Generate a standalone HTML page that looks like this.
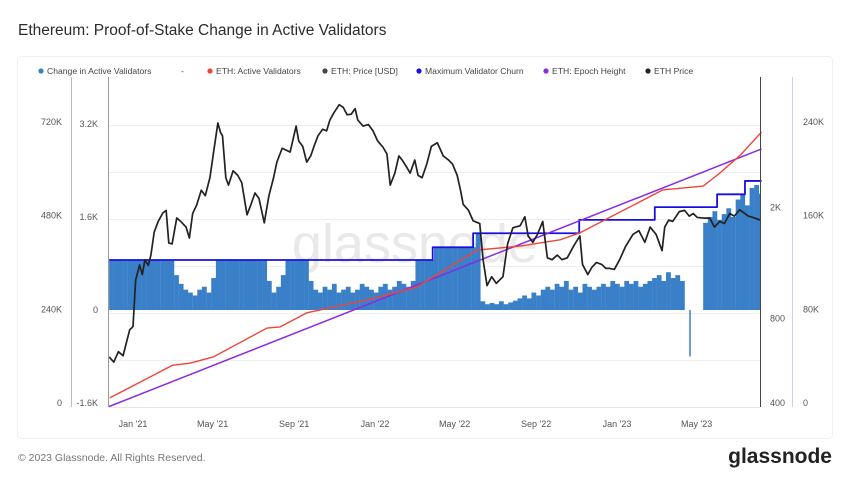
<!DOCTYPE html>
<html><head><meta charset="utf-8"><style>
body{margin:0;background:#fff;font-family:"Liberation Sans",sans-serif;}
#wrap{position:relative;width:850px;height:478px;overflow:hidden;background:#fff}
</style></head><body>
<div id="wrap">
<svg id="svg" width="850" height="478" xmlns="http://www.w3.org/2000/svg">
<text x="18" y="35" font-size="15.5" fill="#2b2b2b">Ethereum: Proof-of-Stake Change in Active Validators</text>
<rect x="17.5" y="56.5" width="815" height="382" rx="4" fill="none" stroke="#efefef"/>
<g font-size="8.6" fill="#444">
<g><circle cx="41" cy="71" r="2.6" fill="#3b82c4"/><text x="47" y="74">Change in Active Validators</text></g>
<text x="181" y="74">-</text>
<g><circle cx="210" cy="71" r="2.6" fill="#f0443a"/><text x="216" y="74">ETH: Active Validators</text></g>
<g><circle cx="325" cy="71" r="2.6" fill="#444"/><text x="331" y="74">ETH: Price [USD]</text></g>
<g><circle cx="419" cy="71" r="2.6" fill="#1a0fe0"/><text x="425" y="74">Maximum Validator Churn</text></g>
<g><circle cx="546" cy="71" r="2.6" fill="#8a2be2"/><text x="552" y="74">ETH: Epoch Height</text></g>
<g><circle cx="648" cy="71" r="2.6" fill="#222"/><text x="654" y="74">ETH Price</text></g>
</g>
<g id="grid"></g>
<text x="415" y="262" font-size="54" fill="#e9e9e9" text-anchor="middle">glassnode</text>
<g id="bars"></g>
<g id="lines"></g>
<line x1="71.5" y1="77" x2="71.5" y2="407" stroke="#bbb"/>
<line x1="108.5" y1="77" x2="108.5" y2="407" stroke="#999"/>
<line x1="760.5" y1="77" x2="760.5" y2="407" stroke="#444"/>
<line x1="792.5" y1="77" x2="792.5" y2="407" stroke="#dcc4ef"/>
<line x1="108" y1="407.5" x2="760" y2="407.5" stroke="#e6e6e6"/>
<g id="ticks" font-size="9" fill="#555"></g>
<text x="18" y="461" font-size="10.5" fill="#777">© 2023 Glassnode. All Rights Reserved.</text>
<text x="832" y="463" font-size="21" font-weight="bold" fill="#222" text-anchor="end">glassnode</text>
</svg>
</div>
<script>
const priceDates=["2020-11-26","2020-12-03","2020-12-10","2020-12-17","2020-12-27","2021-01-01","2021-01-05","2021-01-11","2021-01-15","2021-01-19","2021-01-24","2021-01-28","2021-02-02","2021-02-08","2021-02-15","2021-02-20","2021-02-24","2021-03-01","2021-03-08","2021-03-14","2021-03-22","2021-03-27","2021-04-01","2021-04-07","2021-04-14","2021-04-20","2021-04-27","2021-05-03","2021-05-09","2021-05-13","2021-05-16","2021-05-21","2021-05-25","2021-06-01","2021-06-08","2021-06-14","2021-06-22","2021-06-28","2021-07-04","2021-07-10","2021-07-18","2021-07-25","2021-08-01","2021-08-06","2021-08-14","2021-08-20","2021-08-26","2021-09-04","2021-09-08","2021-09-14","2021-09-20","2021-09-26","2021-10-02","2021-10-07","2021-10-14","2021-10-20","2021-10-25","2021-10-31","2021-11-08","2021-11-14","2021-11-20","2021-11-26","2021-12-02","2021-12-06","2021-12-14","2021-12-22","2021-12-29","2022-01-05","2022-01-13","2022-01-19","2022-01-24","2022-01-31","2022-02-06","2022-02-11","2022-02-17","2022-02-23","2022-03-02","2022-03-07","2022-03-13","2022-03-20","2022-03-27","2022-04-05","2022-04-14","2022-04-22","2022-04-28","2022-05-05","2022-05-10","2022-05-14","2022-05-22","2022-05-29","2022-06-08","2022-06-13","2022-06-19","2022-06-26","2022-07-03","2022-07-13","2022-07-20","2022-07-28","2022-08-08","2022-08-15","2022-08-20","2022-08-27","2022-09-03","2022-09-11","2022-09-18","2022-09-25","2022-10-03","2022-10-10","2022-10-18","2022-10-28","2022-11-06","2022-11-10","2022-11-18","2022-11-24","2022-12-01","2022-12-09","2022-12-15","2022-12-21","2022-12-28","2023-01-05","2023-01-14","2023-01-25","2023-02-03","2023-02-12","2023-02-20","2023-03-01","2023-03-10","2023-03-14","2023-03-20","2023-03-26","2023-04-05","2023-04-13","2023-04-20","2023-04-26","2023-05-02","2023-05-12","2023-05-21","2023-05-28","2023-06-05","2023-06-12","2023-06-20","2023-06-27","2023-07-05","2023-07-13","2023-07-18","2023-07-25","2023-08-05"];
const priceValues=[584,560,610,590,730,750,1100,1245,1150,1297,1240,1350,1632,1780,1908,1950,1490,1480,1832,1780,1700,1553,1900,2037,2300,2200,2550,3200,4000,3700,3600,2550,2400,2700,2600,2450,1880,2050,2250,2150,1760,2200,2550,2900,3250,3200,3150,3900,3450,3300,2900,3050,3350,3600,3800,3750,4100,4350,4650,4550,4280,4300,4500,4100,3900,3950,3750,3450,3280,3100,2400,2650,3050,2950,2800,2650,2950,2600,2550,2850,3300,3400,3050,2950,2850,2600,2300,2050,1950,1790,1750,1300,1050,1130,1070,1130,1480,1690,1720,1850,1580,1500,1600,1780,1320,1300,1350,1300,1320,1460,1580,1250,1150,1220,1270,1250,1210,1210,1200,1300,1450,1600,1650,1500,1700,1600,1400,1700,1800,1780,1930,1950,1860,1900,1840,1830,1830,1700,1780,1750,1900,1860,1960,1900,1860,1840,1800];
const validatorDates=["2020-11-27","2021-03-02","2021-03-28","2021-05-02","2021-07-22","2021-08-11","2021-09-20","2021-12-20","2022-03-05","2022-06-04","2022-08-08","2022-10-07","2022-11-06","2023-03-11","2023-05-11","2023-06-05","2023-07-06","2023-08-07"];
const validatorValues=[13000,97000,102000,118000,192000,195000,231000,264000,297000,392000,402000,418000,436000,546000,556000,589000,635000,694000];
const epochDates=["2020-11-26","2023-08-07"];
const epochValues=[-3000,217000];
const churnDates=["2020-11-26","2022-03-29","2022-05-29","2022-11-05","2023-02-27","2023-06-01","2023-07-13","2023-08-07"];
const churnValues=[860,1080,1320,1550,1770,1990,2220,2220];
const barStartDate="2020-11-26";
const barStepDays=7;
const changeValues=[860,860,860,860,860,860,860,860,860,860,860,860,860,860,
600,450,350,300,250,350,400,300,550,
860,860,860,860,860,860,860,860,860,860,860,
500,300,400,600,
860,860,860,860,860,
500,350,300,400,350,450,300,350,400,300,350,450,400,350,300,400,450,350,400,500,450,400,500,
860,860,860,860,1080,1080,1080,1080,1080,1080,1080,1080,1080,1320,
150,100,120,100,150,100,130,160,
200,250,200,300,250,350,
400,350,450,400,500,350,400,300,450,400,350,400,450,400,500,450,400,500,450,500,400,450,500,
550,600,500,650,550,600,500,
0,-800,0,0,
1500,1600,1700,1550,1650,1750,1600,1900,2000,1800,2100,2150,2000];
const xTickLabels=["Jan '21","May '21","Sep '21","Jan '22","May '22","Sep '22","Jan '23","May '23"];
const xTickDates=["2021-01-01","2021-05-01","2021-09-01","2022-01-01","2022-05-01","2022-09-01","2023-01-01","2023-05-01"];
const validatorTicks=[0,240000,480000,720000];
const validatorTickLabels=["0","240K","480K","720K"];
const changeTicks=[-1600,0,1600,3200];
const changeTickLabels=["-1.6K","0","1.6K","3.2K"];
const priceTicks=[400,800,2000];
const priceTickLabels=["400","800","2K"];
const epochTicks=[0,80000,160000,240000];
const epochTickLabels=["0","80K","160K","240K"];

const NS="http://www.w3.org/2000/svg";
const T0=Date.UTC(2021,0,1);
function dayOf(s){const p=s.split('-');return (Date.UTC(+p[0],+p[1]-1,+p[2])-T0)/86400000;}
function xScale(s){return 133+dayOf(s)*0.6630;}
function xDay(d){return 133+d*0.6630;}
function yValidators(v){return 403-v*281/720000;}
function yChange(v){return 310-v*93/1600;}
function yPrice(p){return 403-280*Math.log10(p/400);}
function yEpoch(v){return 403-v*281/240000;}
function mk(tag,attrs,parent){const e=document.createElementNS(NS,tag);for(const k in attrs)e.setAttribute(k,attrs[k]);parent.appendChild(e);return e;}

const grid=document.getElementById('grid');
[125,172,219,266,313,360].forEach(y=>{
  const l=mk('line',{x1:109,x2:760,y1:y+.5,y2:y+.5,stroke:'#eeeeee'},grid);
  
  
});

const bars=document.getElementById('bars');
const b0=dayOf(barStartDate);
changeValues.forEach((v,i)=>{
  const x=xDay(b0+i*barStepDays);
  if(x>760)return;
  const y0=yChange(0),y1=yChange(v);
  const r=mk('rect',{x:x.toFixed(2),y:Math.min(y0,y1).toFixed(2),width:v<0?1.5:Math.min(4.8,760-x).toFixed(2),height:Math.abs(y1-y0).toFixed(2),fill:'#3a80c9'},bars);
  
  
});

const lines=document.getElementById('lines');
function path(dates,vals,yf,color,w,name,step){
  let d='';
  dates.forEach((s,i)=>{
    const x=xScale(s),y=yf(vals[i]);
    if(i===0)d+='M'+x.toFixed(2)+' '+y.toFixed(2);
    else if(step)d+='H'+x.toFixed(2)+'V'+y.toFixed(2);
    else d+='L'+x.toFixed(2)+' '+y.toFixed(2);
  });
  const p=mk('path',{d:d,fill:'none',stroke:color,'stroke-width':w,'stroke-linejoin':'round'},lines);
  
  
}
path(churnDates,churnValues,yChange,'#1a0fe0',1.8,'churn-line',true);
path(epochDates,epochValues,yEpoch,'#8a2be2',1.5,'epoch-line',false);
path(validatorDates,validatorValues,yValidators,'#f0443a',1.4,'active-validators-line',false);
path(priceDates,priceValues,yPrice,'#222',1.7,'price-line',false);

const ticks=document.getElementById('ticks');
function lbl(x,y,t,anchor,name){const e=mk('text',{x:x,y:y,'text-anchor':anchor},ticks);e.textContent=t;
  
  }
xTickDates.forEach((s,i)=>lbl(xScale(s).toFixed(1),427,xTickLabels[i],'middle','x-tick-label'));
validatorTicks.forEach((v,i)=>lbl(62,yValidators(v)+3,validatorTickLabels[i],'end','validators-tick-label'));
changeTicks.forEach((v,i)=>lbl(98,yChange(v)+3,changeTickLabels[i],'end','change-tick-label'));
priceTicks.forEach((v,i)=>lbl(770,yPrice(v)+3,priceTickLabels[i],'start','price-tick-label'));
epochTicks.forEach((v,i)=>lbl(803,yEpoch(v)+3,epochTickLabels[i],'start','epoch-tick-label'));
</script>
</body></html>
